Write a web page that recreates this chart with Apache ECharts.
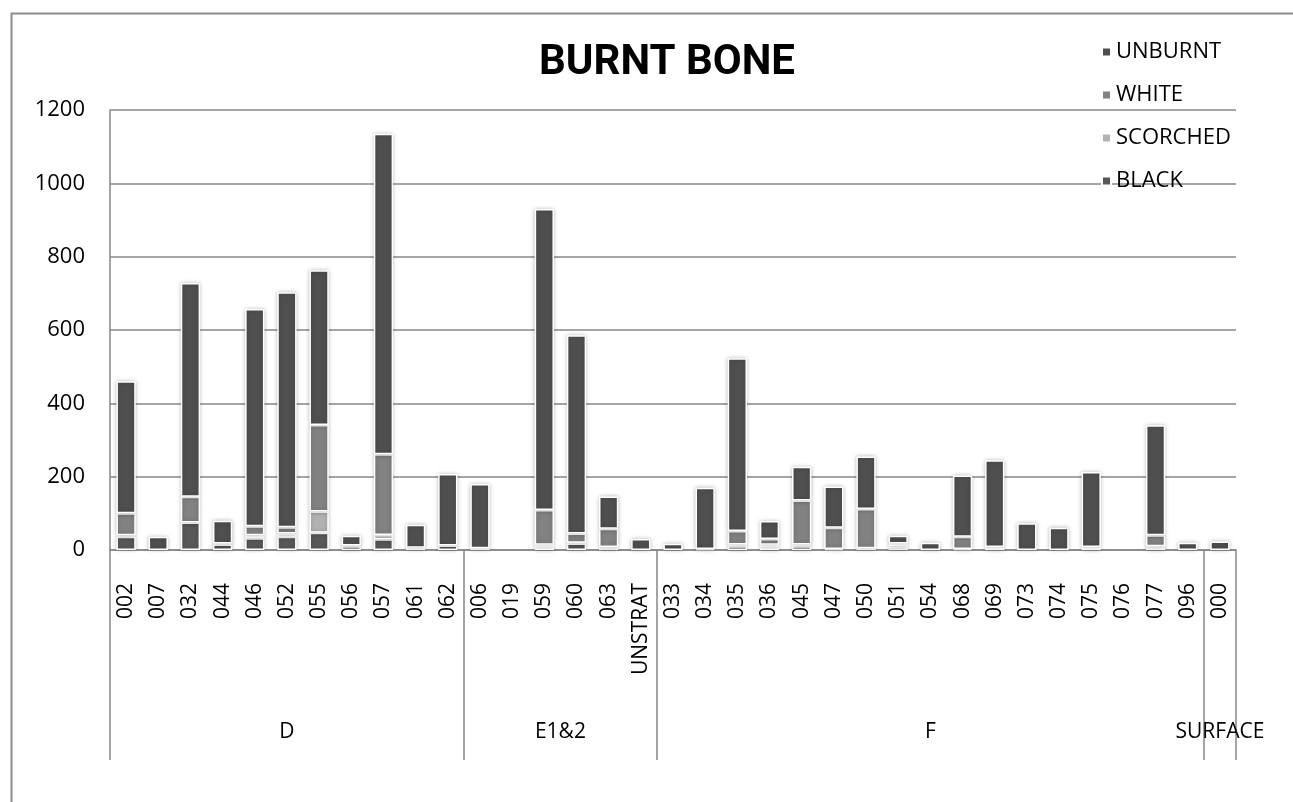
<!DOCTYPE html>
<html>
<head>
<meta charset="utf-8">
<title>Burnt bone</title>
<script src="https://cdn.jsdelivr.net/npm/echarts@6.0.0/dist/echarts.min.js"></script>
<style>
  html, body { margin: 0; padding: 0; background: #fff; }
  #chart { width: 1293px; height: 802px; }
</style>
</head>
<body>
<div id="chart"></div>
<script>
// contexts along the x axis, grouped by phase
const contexts = ['002', '007', '032', '044', '046', '052', '055', '056', '057', '061', '062',
  '006', '019', '059', '060', '063', 'UNSTRAT',
  '033', '034', '035', '036', '045', '047', '050', '051', '054', '068', '069', '073', '074', '075', '076', '077', '096',
  '000'];
const groups = ['D', 'E1&2', 'F', 'SURFACE'];
const groupSizes = [11, 6, 17, 1];

// counts per burning stage (bottom of stack first)
const black = [36, 0, 75, 15, 32, 36, 47, 10, 29, 6, 12,
  5, 0, 8, 18, 5, 0,
  0, 3, 10, 8, 10, 3, 5, 5, 0, 3, 8, 0, 0, 8, 0, 8, 0,
  0];
const scorched = [4, 0, 0, 3, 8, 9, 58, 2, 12, 0, 0,
  0, 0, 6, 2, 3, 0,
  0, 0, 5, 6, 5, 0, 0, 5, 0, 0, 0, 0, 0, 0, 0, 2, 0,
  0];
const white = [60, 0, 70, 0, 25, 17, 236, 0, 220, 0, 0,
  0, 0, 95, 25, 50, 0,
  0, 0, 37, 16, 120, 58, 107, 8, 0, 33, 0, 0, 0, 0, 0, 30, 0,
  0];
const unburnt = [360, 36, 583, 62, 592, 641, 422, 27, 874, 63, 195,
  175, 0, 821, 541, 88, 30,
  17, 167, 471, 49, 92, 112, 143, 21, 20, 167, 237, 73, 61, 205, 0, 300, 20,
  23];

const yTicks = { min: 0, max: 1200, interval: 200 };

// group boundaries and centres on a 0..n scale
let bounds = [0];
let centres = [];
groupSizes.forEach(function (s, i) {
  let start = bounds[bounds.length - 1];
  centres.push(start + s / 2);
  bounds.push(start + s);
});

const font = '"Open Sans", sans-serif';
const titleFont = 'Roboto, "Open Sans", sans-serif';
const lineGray = '#878787';

let myChart = echarts.init(document.getElementById('chart'));

function barSeries(name, data, color) {
  return {
    name: name,
    type: 'bar',
    stack: 'total',
    barWidth: '60%',
    // empty segments are left out so they draw no border or shadow
    data: data.map(function (v) { return v === 0 ? '-' : v; }),
    itemStyle: {
      color: color,
      borderColor: '#fff',
      borderWidth: 1.5,
      shadowBlur: 4,
      shadowColor: 'rgba(0,0,0,0.25)'
    }
  };
}

let option = {
  animation: false,
  title: {
    text: 'BURNT BONE',
    left: 534,
    top: 37,
    textStyle: { fontFamily: titleFont, fontSize: 42, fontWeight: 'bold', color: '#000' }
  },
  legend: {
    orient: 'vertical',
    left: 1101,
    top: 41,
    padding: 0,
    itemWidth: 9,
    itemHeight: 9,
    itemGap: 21,
    icon: 'rect',
    data: ['UNBURNT', 'WHITE', 'SCORCHED', 'BLACK'],
    textStyle: { fontFamily: font, fontSize: 22, color: '#000' }
  },
  graphic: [{
    type: 'rect',
    left: 9,
    top: 11,
    shape: { width: 1320, height: 820 },
    style: { fill: 'none', stroke: '#8c8c8c', lineWidth: 2 },
    silent: true
  }],
  grid: {
    left: 110,
    right: 57,
    top: 110,
    bottom: 252
  },
  xAxis: [
    {
      type: 'category',
      data: contexts,
      axisLine: { lineStyle: { color: lineGray, width: 1.5 } },
      axisTick: { show: false },
      axisLabel: {
        interval: 0,
        rotate: 90,
        margin: 33,
        fontFamily: font,
        fontSize: 21,
        color: '#000'
      }
    },
    {
      type: 'value',
      position: 'bottom',
      min: 0,
      max: contexts.length,
      axisLine: { show: false },
      splitLine: { show: false },
      axisTick: {
        show: true,
        customValues: bounds,
        length: 210,
        lineStyle: { color: lineGray, width: 1.5 }
      },
      axisLabel: {
        customValues: centres,
        margin: 172,
        fontFamily: font,
        fontSize: 21,
        color: '#000',
        formatter: function (v) {
          let i = centres.indexOf(v);
          return i >= 0 ? groups[i] : '';
        }
      }
    }
  ],
  yAxis: {
    type: 'value',
    min: yTicks.min,
    max: yTicks.max,
    interval: yTicks.interval,
    axisLine: { show: true, lineStyle: { color: lineGray, width: 1.5 } },
    axisTick: { show: false },
    splitLine: { lineStyle: { color: lineGray, width: 1.5 } },
    axisLabel: {
      margin: 25,
      fontFamily: font,
      fontSize: 22,
      color: '#000',
      formatter: function (v) { return String(v); }
    }
  },
  series: [
    barSeries('BLACK', black, '#585858'),
    barSeries('SCORCHED', scorched, '#b2b2b2'),
    barSeries('WHITE', white, '#828282'),
    barSeries('UNBURNT', unburnt, '#4f4f4f')
  ]
};

myChart.setOption(option);
</script>
</body>
</html>
